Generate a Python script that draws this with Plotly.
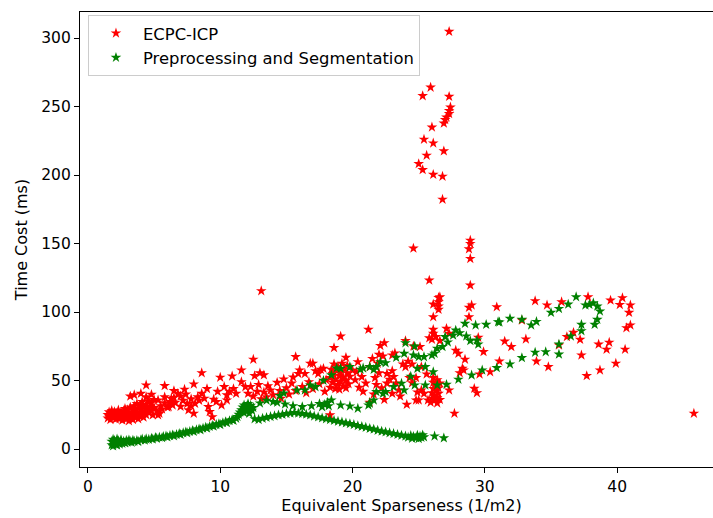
import plotly.graph_objects as go

# ---------------- ECPC-ICP (red) ----------------
ecpc_x = [
    1.5, 1.5, 1.6, 1.6, 1.7, 1.7, 1.8, 1.8, 1.9, 1.9, 2.0, 2.0, 2.1, 2.1, 2.2, 2.2, 2.3, 2.3, 2.4, 2.4, 2.5, 2.5,
    2.6, 2.6, 2.7, 2.7, 2.8, 2.8, 2.9, 2.9, 3.0, 3.0, 3.1, 3.1, 3.2, 3.2, 3.3, 3.3, 3.4, 3.4, 3.5, 3.5,
    3.6, 3.6, 3.7, 3.7, 3.8, 3.8, 3.9, 3.9, 4.0, 4.0, 4.1, 4.1, 4.2, 4.2, 4.3, 4.4, 4.4, 4.5, 4.6, 4.6, 4.7, 4.8, 4.8, 4.9, 5.0, 5.0,
    3.2, 3.5, 4.0, 4.4, 4.8,
    4.4, 5.8, 8.6, 10.0, 10.9, 8.0, 7.3, 6.5,
    5.2, 5.3, 5.4, 5.3, 5.5, 5.6, 5.8, 5.8, 6.0, 6.1, 6.2, 6.3, 6.4, 6.5, 6.6, 6.8, 7.0, 7.0, 7.2, 7.4, 7.5, 7.6, 7.8, 7.8, 8.0, 8.1, 8.3, 8.4,
    8.6, 8.8, 9.0, 9.1, 9.2, 9.4, 9.5, 9.7, 9.8, 10.1, 10.3, 10.5, 10.5, 10.7, 11.0, 11.2, 11.6, 11.9, 11.6,
    12.1, 12.3, 12.5, 12.6, 12.8, 12.9, 13.0, 13.1, 13.3, 13.3, 13.5, 13.6, 13.8, 14.0, 14.3, 14.5, 14.6, 14.8, 15.0, 15.2,
    15.4, 15.5, 15.7, 15.9, 16.0, 16.2, 16.4, 16.5, 16.7, 16.8, 17.0, 17.0, 17.2, 17.4, 17.5, 17.6, 17.8, 17.9, 18.0,
    12.5, 15.7, 13.1, 18.3,
    18.3, 18.3, 18.4, 18.5, 18.5, 18.6, 18.7, 18.7, 18.8, 18.9, 18.9, 19.0, 19.0, 19.1, 19.1, 19.2, 19.3, 19.3, 19.4,
    19.5, 19.5, 19.6, 19.6, 19.7, 19.8, 18.6, 19.1, 19.5,
    20.0, 20.2, 20.3, 20.4, 20.5, 20.7, 20.8, 21.0, 21.2, 21.3, 21.3, 21.5, 21.6, 21.7, 21.8, 21.9, 22.0, 22.0, 22.1,
    22.2, 22.4, 22.3, 22.6, 22.6, 22.8, 23.0, 23.0, 23.1, 23.3, 23.2, 23.5, 23.8, 24.0, 24.0, 24.2, 24.3, 24.5, 24.5,
    24.6, 24.8, 24.8, 25.0, 25.1, 25.2, 25.2, 25.4, 25.6, 25.7,
    22.4, 23.6, 24.1, 24.9, 23.0,
    25.9, 26.0, 26.0, 26.1, 26.1, 26.2, 26.2, 26.3, 26.3, 26.4, 26.4, 26.5, 26.5, 26.6, 26.6, 26.4, 26.1,
    25.8, 26.0, 26.1, 26.1, 26.3, 26.6, 26.1, 26.1, 26.5, 26.5, 26.5, 26.5, 27.1, 27.3, 27.3, 27.7,
    27.3, 25.9, 25.3, 27.3, 27.4, 27.3, 27.3, 27.1, 27.0, 26.9, 26.0, 25.4, 26.1, 25.6, 26.9, 25.0, 25.3, 26.1, 26.8, 26.8,
    24.6, 28.9, 28.9, 28.8, 28.9, 25.8, 28.9, 26.6,
    27.8, 28.0, 28.5, 28.3, 28.1, 28.4, 29.6, 29.2, 29.4, 28.8, 29.0, 28.8, 29.5, 29.9, 30.4, 30.9,
    33.8, 34.7, 35.8, 37.8, 39.5, 40.4, 40.2, 41.0, 40.9, 41.0, 40.7, 32.8, 36.7, 36.2, 37.2, 35.6, 31.5, 32.0, 33.1,
    38.6, 39.4, 39.2, 40.6, 37.3, 31.1, 33.9, 34.8, 39.9, 38.7, 37.7, 45.8,
]
ecpc_y = [
    22.5, 25.0, 27.0, 23.8, 21.5, 26.0, 24.5, 28.0, 22.8, 25.8, 23.5, 27.2, 21.8, 24.8, 26.5, 23.0, 25.5, 28.4, 22.2, 24.2, 26.8, 23.6,
    21.0, 25.2, 27.8, 23.2, 29.5, 24.6, 21.8, 26.4, 23.8, 28.6, 20.5, 25.6, 30.5, 22.6, 27.0, 24.4, 29.2, 21.4, 26.0, 31.5,
    23.4, 28.2, 25.2, 33.0, 30.0, 22.0, 27.0, 24.2, 31.8, 28.8, 25.8, 34.5, 23.2, 30.4, 27.6, 32.6, 25.0, 29.4, 35.0, 26.6, 31.2, 28.0, 33.8, 24.8, 30.2, 36.0,
    38.5, 39.5, 40.5, 38.0, 39.8,
    46.6, 46.2, 55.6, 52.3, 53.2, 47.4, 43.5, 42.5,
    27.8, 24.8, 26.0, 35.7, 31.5, 29.0, 38.0, 33.6, 30.5, 30.8, 34.5, 36.8, 32.0, 37.5, 34.0, 40.5, 38.6, 31.0, 35.5, 40.0, 33.0, 28.5, 36.5, 31.5, 26.0, 33.2, 38.0, 35.5,
    40.5, 37.0, 44.0, 30.8, 27.2, 23.5, 36.2, 34.5, 42.0, 32.0, 45.4, 35.7, 39.4, 42.0, 44.0, 40.5, 49.0, 45.4, 57.6,
    40.5, 45.5, 38.5, 53.5, 42.0, 47.0, 55.5, 36.5, 41.5, 54.0, 38.0, 46.0, 43.0, 39.5, 48.5, 42.5, 37.0, 51.0, 44.5, 40.0,
    48.0, 52.5, 42.5, 55.0, 57.6, 45.5, 55.0, 41.0, 49.0, 62.5, 62.5, 44.0, 57.0, 55.0, 47.5, 58.0, 58.8, 42.0, 50.5,
    65.4, 67.3, 115.4, 24.8,
    45.0, 52.0, 58.0, 48.5, 55.0, 62.0, 44.0, 51.0, 57.0, 47.0, 60.0, 53.5, 43.5, 49.5, 56.0, 62.5, 46.0, 52.5, 58.5,
    44.5, 50.0, 55.5, 61.0, 47.5, 53.0, 73.9, 82.3, 66.8,
    57.5, 50.5, 56.3, 63.6, 45.0, 52.7, 42.0, 48.0, 87.2, 34.0, 60.0, 66.0, 40.0, 52.0, 47.0, 62.5, 69.0, 55.5, 75.5,
    44.5, 77.5, 67.8, 55.0, 48.0, 50.8, 40.5, 68.5, 52.7, 48.0, 70.0, 43.0, 62.0, 60.0, 79.0, 64.0, 52.0, 48.3, 62.0,
    75.0, 52.0, 35.7, 35.7, 74.6, 43.0, 60.0, 40.5, 54.7, 35.7,
    36.0, 38.5, 32.5, 41.5, 57.0,
    34.0, 37.0, 41.0, 44.0, 48.5, 35.5, 39.0, 42.5, 46.0, 33.5, 37.5, 40.5, 44.5, 36.0, 48.0, 50.5, 52.0,
    81.0, 80.0, 84.3, 87.2, 82.0, 79.0, 96.4, 105.7, 101.8, 104.2, 107.4, 110.5, 88.0, 84.3, 43.0, 26.0,
    304.7, 264.0, 257.8, 257.3, 249.5, 247.0, 244.7, 242.2, 240.3, 237.8, 234.9, 226.0, 223.3, 214.3, 217.5, 208.2, 203.8, 200.4, 199.0, 182.2,
    146.5, 152.3, 149.9, 146.0, 139.0, 123.2, 119.5, 111.0,
    72.0, 69.7, 65.4, 58.8, 55.6, 57.6, 54.7, 44.2, 41.0, 103.3, 105.0, 96.4, 81.4, 71.0, 56.3, 103.7,
    108.1, 105.0, 107.4, 111.0, 108.6, 110.3, 105.4, 105.0, 99.6, 90.4, 88.4, 94.0, 85.0, 81.9, 79.9, 75.8, 78.7, 74.6, 80.2,
    76.5, 77.8, 72.7, 72.7, 68.5, 64.1, 64.1, 60.0, 62.5, 57.6, 53.5, 26.0,
]

# ---------------- Preprocessing and Segmentation (green) ----------------
prep_x = [
    1.8, 1.8, 1.9, 1.9, 2.0, 2.0, 2.1, 2.1, 2.2, 2.2, 2.3, 2.3, 2.4, 2.5, 2.5, 2.6, 2.7, 2.8, 2.9, 3.0, 3.1, 3.2, 3.3, 3.4, 3.5,
    3.7, 3.8, 4.0, 4.1, 4.3, 4.4, 4.6, 4.8, 4.9, 5.1, 5.2, 5.4, 5.6, 5.7, 5.9, 6.0, 6.2, 6.4, 6.5, 6.7, 6.9, 7.0, 7.2, 7.4, 7.5,
    7.7, 7.9, 8.0, 8.2, 8.4, 8.5, 8.7, 8.9, 9.0, 9.2, 9.4, 9.5, 9.7, 9.9, 10.0, 10.2, 10.4, 10.5, 10.7, 10.9, 11.0, 11.2, 11.3, 11.4, 11.5,
    11.6, 11.7, 11.8, 11.9, 12.0, 12.0, 12.1, 12.2, 12.3, 12.4, 12.5, 11.8, 12.2,
    12.6, 12.9, 13.2, 13.5, 13.8, 14.1, 14.4, 14.7, 15.0, 15.3, 15.6, 15.9, 16.2, 16.5, 16.8, 17.1, 17.4, 17.7, 18.0, 18.3,
    18.6, 18.9, 19.2, 19.5, 19.8, 20.1, 20.4, 20.7, 21.0, 21.3, 21.6, 21.9, 22.2, 22.5, 22.8, 23.1, 23.4, 23.7, 24.0, 24.2,
    24.4, 24.5, 24.6, 24.8, 24.9, 25.0, 25.1, 25.2, 25.3, 25.4, 26.2, 26.9,
    13.0, 13.5, 14.0, 14.3, 14.9, 15.5, 16.2, 16.9, 17.5, 17.7, 17.9, 18.1, 18.2, 18.4, 19.1, 19.8, 20.4, 21.2, 21.3, 21.6,
    21.8, 22.3, 22.5, 23.1, 23.7, 23.9, 24.4, 24.7, 24.9, 25.5, 25.5, 26.1, 26.4, 27.1, 28.0, 29.0, 29.8, 30.9,
    31.9, 32.8, 33.8, 34.6, 35.6, 35.6, 36.5, 37.3, 37.3, 38.3, 38.5, 38.7, 38.5, 38.2, 37.9, 37.6, 36.9, 36.3, 35.6, 35.0,
    33.9, 33.5, 32.8, 31.9, 31.1, 31.0, 30.1, 29.3, 28.5, 27.8, 28.1, 27.6, 28.6, 28.9, 29.4, 29.5,
    14.5, 14.8, 15.8, 16.4, 16.8, 17.2, 17.8, 18.4, 18.8, 19.1, 19.8, 20.6, 20.8, 21.3, 21.6, 21.8, 22.1, 22.5, 23.3, 23.9,
    24.0, 24.6, 24.7, 25.0, 25.4, 26.0, 26.2, 26.4, 26.8, 27.0, 27.2,
]
prep_y = [
    3.0, 5.5, 7.0, 2.2, 4.2, 6.2, 3.4, 5.0, 7.2, 2.8, 4.6, 6.0, 3.6, 5.2, 6.8, 4.0, 5.6, 4.4, 6.2, 5.0, 6.6, 5.4, 4.8, 6.4, 5.6,
    6.2, 5.4, 6.6, 7.2, 6.4, 7.4, 7.0, 7.8, 7.2, 8.4, 7.8, 8.6, 8.2, 9.0, 9.4, 8.8, 9.8, 10.2, 9.6, 10.6, 11.2, 10.6, 11.8, 12.4, 11.8,
    12.8, 13.4, 12.8, 14.0, 14.6, 14.0, 15.2, 15.8, 15.2, 16.4, 17.2, 16.6, 17.8, 18.4, 17.8, 19.2, 19.8, 19.2, 20.6, 21.4, 20.8, 22.4, 23.6, 25.2, 26.8,
    28.5, 30.5, 32.0, 29.0, 31.0, 27.5, 33.0, 29.8, 31.8, 28.2, 30.2, 26.5, 26.0,
    22.0, 21.5, 22.4, 23.0, 23.6, 24.2, 24.8, 25.2, 25.8, 26.2, 26.6, 26.2, 25.8, 25.4, 24.8, 24.0, 23.4, 22.6, 22.0, 21.4,
    20.8, 20.2, 19.6, 19.0, 18.4, 17.8, 17.0, 16.4, 15.8, 15.0, 14.4, 13.6, 13.0, 12.4, 11.8, 11.2, 10.6, 10.0, 9.4, 8.6,
    9.8, 7.8, 9.0, 8.2, 10.0, 7.6, 9.2, 8.4, 10.2, 8.8, 9.4, 8.0,
    33.5, 35.5, 34.5, 34.0, 32.8, 31.5, 30.8, 31.5, 33.0, 30.8, 32.5, 34.0, 31.5, 35.7, 32.0, 31.3, 29.7, 32.0, 33.3, 35.7,
    41.8, 40.5, 41.8, 45.4, 47.9, 43.0, 53.0, 46.6, 58.8, 60.0, 46.6, 56.3, 46.6, 47.1, 50.8, 53.9, 57.6, 59.3,
    62.0, 66.6, 70.5, 70.9, 69.2, 76.5, 82.4, 86.2, 90.9, 90.9, 94.5, 100.6, 104.2, 106.6, 105.5, 105.0, 111.0, 105.7, 102.5, 99.6,
    93.0, 90.4, 94.5, 95.3, 92.6, 92.8, 90.9, 90.4, 91.6, 86.7, 84.8, 83.0, 82.4, 79.0, 79.4, 76.5,
    39.0, 40.8, 43.0, 43.0, 46.6, 45.4, 50.0, 54.0, 59.0, 58.8, 60.0, 58.1, 59.0, 60.0, 58.0, 60.0, 63.6, 62.9, 66.8, 69.7,
    77.5, 68.5, 75.0, 67.3, 67.3, 68.5, 69.7, 73.4, 74.6, 81.9, 78.0,
]

x_ticks = [0, 10, 20, 30, 40]
y_ticks = [0, 50, 100, 150, 200, 250, 300]

FONT = "DejaVu Sans, Arial, sans-serif"

fig = go.Figure()
fig.add_trace(go.Scatter(
    x=ecpc_x, y=ecpc_y, mode="markers", name="ECPC-ICP", legendgroup="a",
    marker=dict(symbol="star", size=8, color="#ff0000", line=dict(width=0)),
))
fig.add_trace(go.Scatter(
    x=prep_x, y=prep_y, mode="markers", name="Preprocessing and Segmentation", legendgroup="b",
    marker=dict(symbol="star", size=8, color="#008000", line=dict(width=0)),
))

# The reference is cropped: its right spine lies just beyond the 713 px window.
fig.update_layout(
    width=723, height=518,
    margin=dict(l=80, r=0, t=12, b=51, autoexpand=False),
    paper_bgcolor="white", plot_bgcolor="white",
    font=dict(family=FONT, size=15.5, color="black"),
    showlegend=True,
    legend=dict(
        x=0.0124, y=0.9934, xanchor="left", yanchor="top",
        bgcolor="rgba(255,255,255,0.8)", bordercolor="#cccccc", borderwidth=1,
        font=dict(family=FONT, size=16.4, color="black"),
        itemwidth=44, tracegroupgap=0,
    ),
    xaxis=dict(
        range=[-0.6, 48.0], tickvals=x_ticks, ticks="outside", ticklen=5, tickwidth=1,
        tickcolor="black", showline=True, linecolor="black", linewidth=1.2, mirror=True,
        showgrid=False, zeroline=False, automargin=False,
        title=dict(text="Equivalent Sparseness (1/m2)", standoff=4, font=dict(size=16)),
    ),
    yaxis=dict(
        range=[-13.1, 319.0], tickvals=y_ticks, ticks="outside", ticklen=5, tickwidth=1,
        tickcolor="black", showline=True, linecolor="black", linewidth=1.2, mirror=False,
        showgrid=False, zeroline=False, automargin=False,
        title=dict(text="Time Cost (ms)", standoff=9, font=dict(size=16)),
    ),
)

fig.write_html(
    "out.html",
    config={"displayModeBar": False},
    post_script="document.body.style.margin='0';document.body.style.padding='0';document.body.style.overflow='hidden';",
)
